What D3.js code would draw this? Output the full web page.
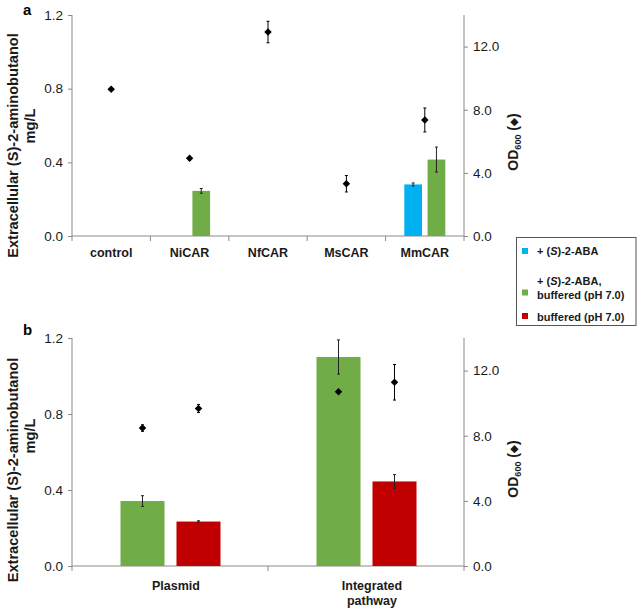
<!DOCTYPE html>
<html>
<head>
<meta charset="utf-8">
<script src="https://cdn.jsdelivr.net/npm/d3@7"></script>
<style>
  html, body { margin: 0; padding: 0; background: #fff; }
  svg { display: block; font-family: "Liberation Sans", Arial, sans-serif; }
</style>
</head>
<body>
<svg id="chart" width="638" height="610"></svg>
<script>
// ---------- data ----------
const catsA = ["control", "NiCAR", "NfCAR", "MsCAR", "MmCAR"];
const abaA = [null, null, null, null, 0.28];          // + (S)-2-ABA
const abaAErr = [null, null, null, null, 0.008];
const bufA = [null, 0.245, null, null, 0.415];         // + (S)-2-ABA, buffered
const bufAErr = [null, 0.013, null, null, 0.068];
const odA = [9.3, 4.92, 12.92, 3.31, 7.35];
const odAErr = [0.08, 0.12, 0.68, 0.52, 0.76];

const catsB = ["Plasmid", "Integrated pathway"];
const bufB = [0.342, 1.10];                            // + (S)-2-ABA, buffered
const bufBErr = [0.028, 0.09];
const redB = [0.234, 0.445];                           // buffered (pH 7.0)
const redBErr = [0.004, 0.036];
const odBufB = [8.47, 10.7];
const odBufBErr = [0.2, 0.05];
const odRedB = [9.67, 11.28];
const odRedBErr = [0.25, 1.09];

const leftTicks = [0, 0.4, 0.8, 1.2];
const rightTicks = [0, 4, 8, 12];

const colors = { aba: "#00B0F0", buf: "#70AD47", red: "#C00000" };
const axisColor = "#8a8a8a";
const textColor = "#1a1a1a";

const svg = d3.select("#chart");

function panel(opts) {
  const g = svg.append("g");
  const x = d3.scaleBand().domain(opts.cats).range([72, 464]);
  const y = d3.scaleLinear().domain([0, 1.2]).range([opts.y0, opts.y1]);
  const y2 = d3.scaleLinear().domain([0, 14]).range([opts.y0, opts.y1]);
  const xs = d3.scaleBand().domain(opts.series).range(opts.inner).paddingInner(opts.pad);

  // left axis
  const la = g.append("g").attr("transform", "translate(72,0)")
    .call(d3.axisLeft(y).tickValues(leftTicks).tickFormat(d3.format(".1f")).tickSize(4).tickPadding(5));
  la.select(".domain").attr("stroke", axisColor).attr("d", `M0,${opts.y0}V${opts.y1}`);
  la.selectAll(".tick line").attr("stroke", axisColor);
  la.selectAll(".tick text").attr("fill", textColor).style("font-size", "13.5px");

  // right axis
  const ra = g.append("g").attr("transform", "translate(464,0)")
    .call(d3.axisRight(y2).tickValues(rightTicks).tickFormat(d3.format(".1f")).tickSize(4).tickPadding(5));
  ra.select(".domain").attr("stroke", axisColor).attr("d", `M0,${opts.y0}V${opts.y1}`);
  ra.selectAll(".tick line").attr("stroke", axisColor);
  ra.selectAll(".tick text").attr("fill", textColor).style("font-size", "13.5px");

  // x axis
  const bounds = opts.cats.map(c => x(c)).concat([x.range()[1]]);
  g.append("line").attr("x1", 72).attr("x2", 464).attr("y1", opts.y0).attr("y2", opts.y0)
    .attr("stroke", axisColor);
  g.selectAll(".xt").data(bounds).join("line")
    .attr("x1", d => d).attr("x2", d => d).attr("y1", opts.y0).attr("y2", opts.y0 + 5)
    .attr("stroke", axisColor);

  // bars
  opts.bars.forEach(s => {
    s.values.forEach((v, i) => {
      if (v == null) return;
      const bx = x(opts.cats[i]) + xs(s.key);
      g.append("rect").attr("x", bx).attr("y", y(v)).attr("width", xs.bandwidth())
        .attr("height", y(0) - y(v)).attr("fill", s.color);
      const e = s.err[i];
      if (e) {
        const cx = bx + xs.bandwidth() / 2;
        const eg = g.append("g").attr("stroke", "#222").attr("stroke-width", 1);
        eg.append("line").attr("x1", cx).attr("x2", cx).attr("y1", y(v + e)).attr("y2", y(v - e));
        eg.append("line").attr("x1", cx - 1.5).attr("x2", cx + 1.5).attr("y1", y(v + e)).attr("y2", y(v + e));
        eg.append("line").attr("x1", cx - 1.5).attr("x2", cx + 1.5).attr("y1", y(v - e)).attr("y2", y(v - e));
      }
    });
  });

  // OD diamonds
  const diamond = d3.symbol().type(d3.symbolSquare).size(28);
  opts.od.forEach(s => {
    s.values.forEach((v, i) => {
      if (v == null) return;
      const cx = s.key ? x(opts.cats[i]) + xs(s.key) + xs.bandwidth() / 2
                       : x(opts.cats[i]) + x.bandwidth() / 2;
      const e = s.err[i];
      const eg = g.append("g").attr("stroke", "#000").attr("stroke-width", 1);
      eg.append("line").attr("x1", cx).attr("x2", cx).attr("y1", y2(v + e)).attr("y2", y2(v - e));
      eg.append("line").attr("x1", cx - 1.5).attr("x2", cx + 1.5).attr("y1", y2(v + e)).attr("y2", y2(v + e));
      eg.append("line").attr("x1", cx - 1.5).attr("x2", cx + 1.5).attr("y1", y2(v - e)).attr("y2", y2(v - e));
      g.append("path").attr("d", diamond)
        .attr("transform", `translate(${cx},${y2(v)}) rotate(45)`).attr("fill", "#000");
    });
  });

  // x labels
  opts.cats.forEach((c, i) => {
    const lines = opts.labelLines[i];
    const t = g.append("text").attr("text-anchor", "middle")
      .attr("x", x(c) + x.bandwidth() / 2 + opts.labelDx)
      .attr("y", opts.labelY).attr("fill", textColor)
      .style("font-size", "12.5px").style("font-weight", "bold");
    lines.forEach((l, k) => {
      t.append("tspan").attr("x", x(c) + x.bandwidth() / 2 + opts.labelDx)
        .attr("dy", k === 0 ? 0 : 15).text(l);
    });
  });

  // left title
  const tl = g.append("g").style("font-weight", "bold").style("font-size", "14.6px").attr("fill", textColor);
  tl.append("text").attr("transform", `translate(17.5,${opts.title1Y}) rotate(-90)`)
    .attr("text-anchor", "middle").text("Extracellular (S)-2-aminobutanol");
  tl.append("text").attr("transform", `translate(35,${opts.title2Y}) rotate(-90)`)
    .attr("text-anchor", "middle").text("mg/L");

  // right title
  const rt = g.append("text").attr("transform", `translate(517.5,${opts.rTitleY}) rotate(-90)`)
    .attr("text-anchor", "middle").attr("fill", textColor)
    .style("font-weight", "bold").style("font-size", "14px");
  rt.append("tspan").text("OD");
  rt.append("tspan").attr("dy", 3).style("font-size", "9px").text("600");
  rt.append("tspan").attr("dy", -3).text(" (");
  rt.append("tspan").attr("dy", -1).style("font-size", "10px").text("\u25C6");
  rt.append("tspan").attr("dy", 1).text(")");

  // panel letter
  svg.append("text").attr("x", 23).attr("y", opts.letterY).attr("fill", "#000")
    .style("font-weight", "bold").style("font-size", "15px").text(opts.letter);
}

panel({
  cats: catsA, y0: 236, y1: 15, series: ["aba", "buf"], inner: [18.7, 59.7], pad: 0.24,
  bars: [
    { key: "aba", values: abaA, err: abaAErr, color: colors.aba },
    { key: "buf", values: bufA, err: bufAErr, color: colors.buf }
  ],
  od: [{ key: null, values: odA, err: odAErr }],
  labelLines: catsA.map(c => [c]), labelY: 257, labelDx: 0,
  title1Y: 145.5, title2Y: 126, rTitleY: 142, letter: "a", letterY: 15
});

panel({
  cats: catsB, y0: 566, y1: 338, series: ["buf", "red"], inner: [48.5, 148.5], pad: 0.214,
  bars: [
    { key: "buf", values: bufB, err: bufBErr, color: colors.buf },
    { key: "red", values: redB, err: redBErr, color: colors.red }
  ],
  od: [
    { key: "buf", values: odBufB, err: odBufBErr },
    { key: "red", values: odRedB, err: odRedBErr }
  ],
  labelLines: [["Plasmid"], ["Integrated", "pathway"]], labelY: 590, labelDx: 6,
  title1Y: 470, title2Y: 436, rTitleY: 469, letter: "b", letterY: 335
});

// ---------- legend ----------
const lg = svg.append("g");
lg.append("rect").attr("x", 516.5).attr("y", 237.5).attr("width", 119.5).attr("height", 88)
  .attr("fill", "#fff").attr("stroke", "#555").attr("stroke-width", 1);
const legendItems = [
  { color: colors.aba, sq: 248, lines: [[["+ (", false], ["S", true], [")-2-ABA", false]]], y: 255 },
  { color: colors.buf, sq: 289.5, lines: [[["+ (", false], ["S", true], [")-2-ABA,", false]], [["buffered (pH 7.0)", false]]], y: 285 },
  { color: colors.red, sq: 313, lines: [[["buffered (pH 7.0)", false]]], y: 321 }
];
legendItems.forEach(it => {
  lg.append("rect").attr("x", 522).attr("y", it.sq).attr("width", 6).attr("height", 6).attr("fill", it.color);
  it.lines.forEach((parts, k) => {
    const t = lg.append("text").attr("x", 537).attr("y", it.y + k * 13.5).attr("fill", textColor)
      .style("font-weight", "bold").style("font-size", "11px");
    parts.forEach(p => t.append("tspan").style("font-style", p[1] ? "italic" : "normal").text(p[0]));
  });
});
</script>
</body>
</html>
